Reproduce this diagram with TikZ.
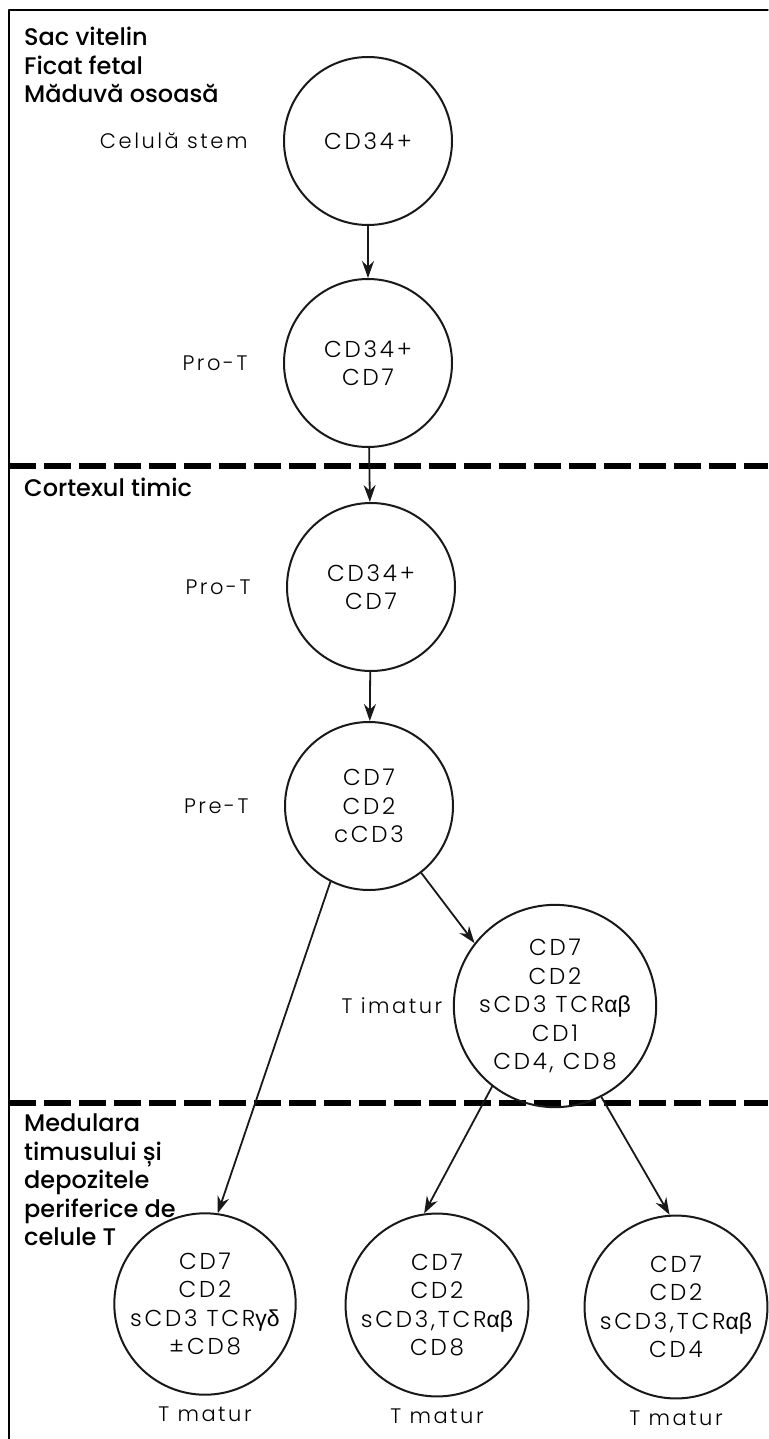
\documentclass[tikz,border=0pt]{standalone}
\usepackage{fontspec}
\setmainfont{Poppins}
\newfontfamily\regionfont{Poppins Medium}
\newfontfamily\cellfont{Poppins Light}[LetterSpace=12]
\newfontfamily\greekfont{Liberation Sans}
\newcommand{\gk}[1]{{\greekfont #1}}
\usetikzlibrary{positioning,arrows.meta}

\begin{document}
\begin{tikzpicture}[x=1pt, y=-1pt, line join=round, line cap=round, >={Stealth[length=17pt,width=12pt]},
	cell/.style={circle, draw=black!90, line width=2pt, minimum size=168pt, inner sep=0pt, align=center, text=black, font=\cellfont\fontsize{23}{28.5}\selectfont},
	stage/.style={text=black, font=\cellfont\fontsize{21}{25}\selectfont},
	region/.style={anchor=north west, inner sep=0pt, align=left, font=\regionfont\fontsize{24}{28.5}\selectfont},
	flow/.style={->, line width=1.8pt, draw=black!90},
	border/.style={line width=6.5pt, line cap=butt, dash pattern=on 27pt off 8pt}]

	\useasboundingbox (0,0) rectangle (768,1439);
	% cadru si limitele zonelor
	\draw[line width=1.3pt] (768,10) -- (9,10) -- (9,1439);
	\draw[border] (9,466) -- (768,466);
	\draw[border] (9,1103) -- (768,1103);

	% zonele
	\node[region] (yolk) at (24,27) {Sac vitelin\\Ficat fetal\\Măduvă osoasă};
	\node[region] (cortex) at (24,478) {Cortexul timic};
	\node[region] (medulla) at (24,1114) {Medulara\\timusului și\\depozitele\\periferice de\\celule T};

	% celulele
	\node[cell] (stem) at (368,141) {CD34+};
	\node[cell] (proA) at (368,363) {CD34+\\CD7};
	\node[cell] (proB) at (371,587) {CD34+\\CD7};
	\node[cell] (pre) at (369,806) {CD7\\CD2\\cCD3};
	\node[cell] (imat) at (555,1006) {CD7\\CD2\\sCD3 TCR\gk{αβ}\\CD1\\CD4, CD8};
	\node[cell] (tgd) at (205,1304) {CD7\\CD2\\sCD3 TCR\gk{γδ}\\±CD8};
	\node[cell] (tcd8) at (437,1305) {CD7\\CD2\\sCD3,TCR\gk{αβ}\\CD8};
	\node[cell] (tcd4) at (676,1307) {CD7\\CD2\\sCD3,TCR\gk{αβ}\\CD4};

	% etichete
	\node[stage, left=32pt of stem] {Celulă stem};
	\node[stage, left=32pt of proA] {Pro-T};
	\node[stage, left=32pt of proB] {Pro-T};
	\node[stage, left=32pt of pre] {Pre-T};
	\node[stage, left=7pt of imat] {T imatur};
	\foreach \c in {tgd, tcd8, tcd4} {
		\node[stage, below=8pt of \c] {T matur};
	}

	% sagetile
	\draw[flow] (stem) -- (proA);
	\draw[flow] (proA) -- (proB);
	\draw[flow] (proB) -- (pre);
	\draw[flow] (pre.308) -- (imat.142);
	\draw[flow] (pre.243) -- (tgd.82);
	\draw[flow] (imat.232) -- (tcd8.98);
	\draw[flow] (imat.297) -- (tcd4.94);

\end{tikzpicture}
\end{document}
